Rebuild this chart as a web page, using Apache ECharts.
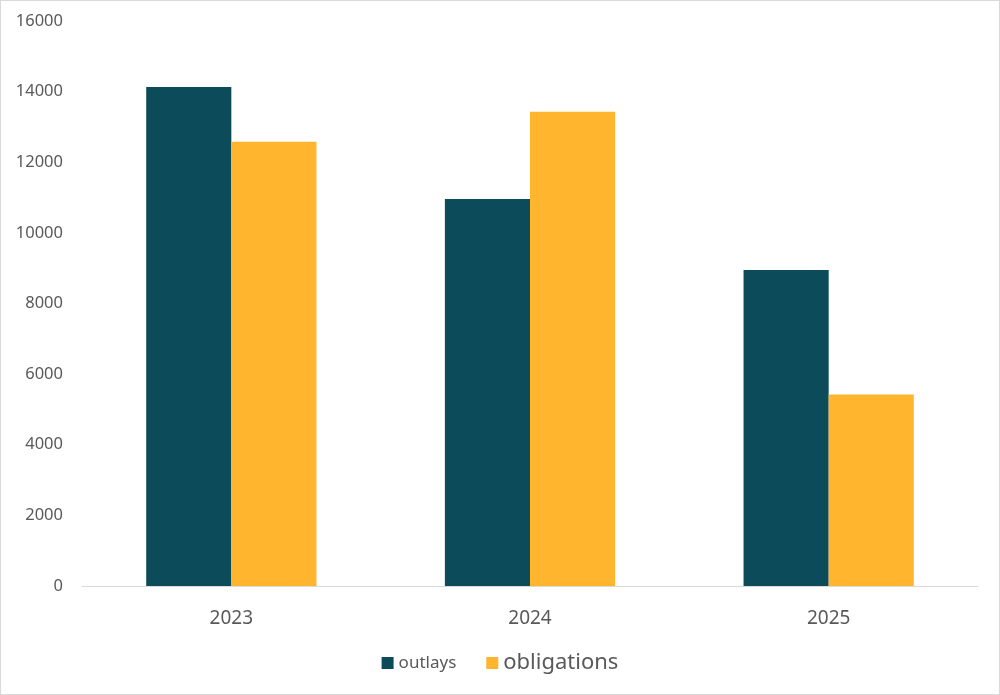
<!DOCTYPE html>
<html><head><meta charset="utf-8">
<script src="https://cdn.jsdelivr.net/npm/echarts@6/dist/echarts.min.js"></script>
<style>html,body{margin:0;padding:0;background:#fff}#c{width:1000px;height:695px;box-sizing:border-box;border:1px solid #d9d9d9}</style>
</head><body><div id="c"></div>
<script>
const categories = ['2023', '2024', '2025'];
const outlays = [14130, 10960, 8950];
const obligations = [12580, 13430, 5420];
const yTicks = { min: 0, max: 16000, interval: 2000 };

const F = 'Noto Sans';
const chart = echarts.init(document.getElementById('c'));
chart.setOption({
  animation: false,
  textStyle: { fontFamily: F },
  grid: { left: 81, right: 21, top: 20, bottom: 108 },
  xAxis: {
    type: 'category', data: categories,
    axisLine: { lineStyle: { color: '#d9d9d9', width: 1 } },
    axisTick: { show: false },
    axisLabel: { color: '#595959', fontSize: 19, margin: 23, fontFamily: F }
  },
  yAxis: {
    type: 'value', min: yTicks.min, max: yTicks.max, interval: yTicks.interval,
    splitLine: { show: false },
    axisLine: { show: false }, axisTick: { show: false },
    axisLabel: { color: '#595959', fontSize: 16.5, margin: 19, fontFamily: F,
      formatter: v => String(v) }
  },
  legend: {
    bottom: 15, left: 'center', itemWidth: 12, itemHeight: 12, itemGap: 30,
    icon: 'rect',
    data: [
      { name: 'outlays', textStyle: { fontSize: 17, color: '#595959', fontFamily: F } },
      { name: 'obligations', textStyle: { fontSize: 22, color: '#595959', fontFamily: F } }
    ]
  },
  series: [
    { name: 'outlays', type: 'bar', data: outlays, barGap: '0%', barCategoryGap: '43%',
      itemStyle: { color: '#0c4c5a' } },
    { name: 'obligations', type: 'bar', data: obligations,
      itemStyle: { color: '#ffb52e' } }
  ]
});
</script></body></html>
